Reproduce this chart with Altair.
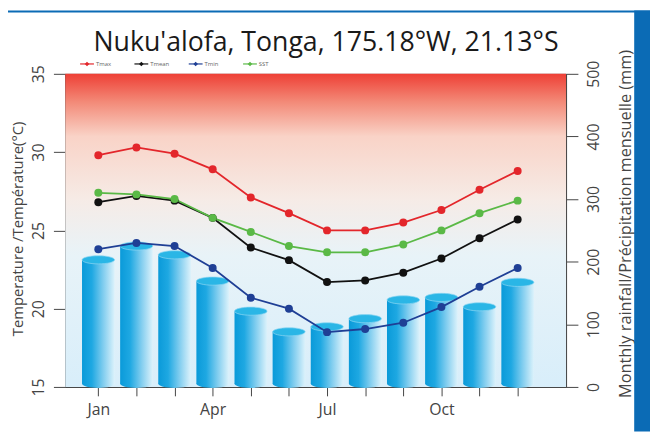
import altair as alt
import pandas as pd

# ---------------- data ----------------
months = list(range(1, 13))
month_labels = ["Jan", "", "", "Apr", "", "", "Jul", "", "", "Oct", "", ""]
rain = [203, 225, 211, 169, 121, 88, 96, 109, 139, 143, 128, 167]
tmax = [29.8, 30.3, 29.9, 28.9, 27.1, 26.1, 25.0, 25.0, 25.5, 26.3, 27.6, 28.8]
tmean = [26.8, 27.2, 26.9, 25.8, 23.9, 23.1, 21.7, 21.8, 22.3, 23.2, 24.5, 25.7]
tmin = [23.8, 24.2, 24.0, 22.6, 20.7, 20.0, 18.5, 18.7, 19.1, 20.1, 21.4, 22.6]
sst = [27.4, 27.3, 27.0, 25.8, 24.9, 24.0, 23.6, 23.6, 24.1, 25.0, 26.1, 26.9]
series = ["Tmax", "Tmean", "Tmin", "SST"]
colors = ["#e3262b", "#111111", "#1f3f95", "#5ab946"]
temp_ticks = [15, 20, 25, 30, 35]
rain_ticks = [0, 100, 200, 300, 400, 500]

title_text = "Nuku'alofa, Tonga, 175.18°W, 21.13°S"
left_title = "Temperature /Température(°C)"
right_title = "Monthly rainfall/Précipitation mensuelle (mm)"

# ---------------- frames ----------------
df_rain = pd.DataFrame({"month": months, "rain": rain})
df_temp = pd.DataFrame(
    [{"month": m, "series": s, "value": v}
     for s, vals in zip(series, [tmax, tmean, tmin, sst])
     for m, v in zip(months, vals)]
)
df_leg = pd.DataFrame({"series": series, "i": list(range(len(series)))})
one = pd.DataFrame({"a": [0]})

W, H = 507, 317
FONT = "Open Sans"

label_expr = "[" + ",".join("'%s'" % l for l in month_labels) + "][datum.value-1]"
xscale = alt.Scale(domain=[0.263, 13.14], nice=False, zero=False)
xaxis = alt.Axis(values=months, labelExpr=label_expr, tickSize=9, labelFontSize=16,
                 labelFont=FONT, labelColor="#444", labelPadding=6, domainColor="#444",
                 tickColor="#444", grid=False, title=None, labelFlush=False,
                 labelOverlap=False)
tscale = alt.Scale(domain=[15, 35], nice=False, zero=False)
taxis = alt.Axis(orient="left", values=temp_ticks, labelAngle=270, labelAlign="center",
                 labelBaseline="bottom", tickSize=12, labelPadding=7, labelFontSize=16,
                 labelFont=FONT, labelColor="#444", domainColor="#444", tickColor="#444",
                 grid=False, title=None)
rscale = alt.Scale(domain=[0, 500], nice=False)
raxis = alt.Axis(orient="right", values=rain_ticks, labelAngle=270, labelAlign="center",
                 labelBaseline="top", tickSize=12, labelPadding=8, labelFontSize=16,
                 labelFont=FONT, labelColor="#444", domainColor="#444", tickColor="#444",
                 grid=False, title=None)

bg_grad = alt.Gradient(
    gradient="linear", x1=0, x2=0, y1=0, y2=1,
    stops=[alt.GradientStop(offset=0, color="#ee4036"),
           alt.GradientStop(offset=0.09, color="#f38a78"),
           alt.GradientStop(offset=0.2, color="#f9d3c7"),
           alt.GradientStop(offset=0.4, color="#f6ebe6"),
           alt.GradientStop(offset=0.58, color="#e8f3f8"),
           alt.GradientStop(offset=1, color="#d8eefa")])
bar_grad = alt.Gradient(
    gradient="linear", x1=0, x2=1, y1=0, y2=0,
    stops=[alt.GradientStop(offset=0, color="#0a9ad9"),
           alt.GradientStop(offset=0.3, color="#1ea8e2"),
           alt.GradientStop(offset=0.65, color="#80cdef"),
           alt.GradientStop(offset=1, color="#dcf2fb")])

ellipse = "M-1,0A1,0.25,0,1,1,1,0A1,0.25,0,1,1,-1,0Z"
BW = 33

bg = alt.Chart(one).mark_rect(fill=bg_grad).encode(
    x=alt.value(0), x2=alt.value(W), y=alt.value(0), y2=alt.value(H))

X = alt.X("month:Q", scale=xscale, axis=xaxis)

bars = alt.Chart(df_rain).mark_bar(size=BW, fill=bar_grad).encode(
    x=X, y=alt.Y("rain:Q", scale=rscale, axis=raxis), y2=alt.datum(5))
bottoms = alt.Chart(df_rain).mark_point(shape=ellipse, size=BW * BW, filled=True,
                                        fill=bar_grad, opacity=1).encode(
    x=X, y=alt.datum(5))
tops = alt.Chart(df_rain).mark_point(shape=ellipse, size=BW * BW, filled=True,
                                     fill="#2ab6e6", stroke="#8fd6f2", strokeWidth=0.7,
                                     opacity=1).encode(
    x=X, y=alt.Y("rain:Q", scale=rscale, axis=raxis))
rain_layer = alt.layer(bars, bottoms, tops)

cscale = alt.Scale(domain=series, range=colors)
lines = alt.Chart(df_temp).mark_line(strokeWidth=1.8).encode(
    x=X, y=alt.Y("value:Q", scale=tscale, axis=taxis),
    color=alt.Color("series:N", scale=cscale, legend=None))
pts = alt.Chart(df_temp).mark_circle(size=65, opacity=1).encode(
    x=X, y=alt.Y("value:Q", scale=tscale, axis=taxis),
    color=alt.Color("series:N", scale=cscale, legend=None))
temp_layer = alt.layer(lines, pts)

# texts
title = alt.Chart(one).mark_text(text=title_text, font=FONT, fontSize=27, fontWeight=500,
                                 color="#1a1a1a", align="center",
                                 baseline="alphabetic").encode(
    x=alt.value(264), y=alt.value(-23))
ltitle = alt.Chart(one).mark_text(text=left_title, font=FONT, fontSize=15, color="#444",
                                  angle=270, align="center", baseline="middle").encode(
    x=alt.value(-48), y=alt.value(157))
rtitle = alt.Chart(one).mark_text(text=right_title, font=FONT, fontSize=16.5, color="#444",
                                  angle=270, align="center", baseline="middle").encode(
    x=alt.value(568), y=alt.value(152))

# manual legend
leg_base = alt.Chart(df_leg).transform_calculate(px="22 + datum.i * 55",
                                                 px0="15 + datum.i * 55",
                                                 px1="29 + datum.i * 55")
leg_col = alt.Color("series:N", scale=cscale, legend=None)
leg_rule = leg_base.mark_rule(strokeWidth=1.2).encode(
    x=alt.X("px0:Q", scale=None, axis=None), x2="px1:Q", y=alt.value(-10), color=leg_col)
leg_pt = leg_base.mark_point(shape="diamond", filled=True, size=22, opacity=1).encode(
    x=alt.X("px:Q", scale=None, axis=None), y=alt.value(-10), color=leg_col)
leg_txt = leg_base.mark_text(font=FONT, fontSize=6, color="#666", align="left",
                             baseline="middle", dx=9).encode(
    x=alt.X("px:Q", scale=None, axis=None), y=alt.value(-10), text="series:N")

# outer blue frame
frame_top = alt.Chart(one).mark_rect(fill="#0b6bb5").encode(
    x=alt.value(-58), x2=alt.value(592), y=alt.value(-64), y2=alt.value(-62))
frame_right = alt.Chart(one).mark_rect(fill="#0b6bb5").encode(
    x=alt.value(576), x2=alt.value(592), y=alt.value(-64), y2=alt.value(362))

chart = alt.layer(
    bg, rain_layer, temp_layer, title, ltitle, rtitle, leg_rule, leg_pt, leg_txt,
    frame_top, frame_right
).resolve_scale(y="independent").properties(
    width=W, height=H,
    autosize=alt.AutoSizeParams(type="none"),
    padding={"left": 58, "top": 64, "right": 85, "bottom": 45},
    background="white",
).configure_view(stroke="#555", strokeWidth=1)

chart.save("out.html", embed_options={"renderer": "svg", "actions": False})
